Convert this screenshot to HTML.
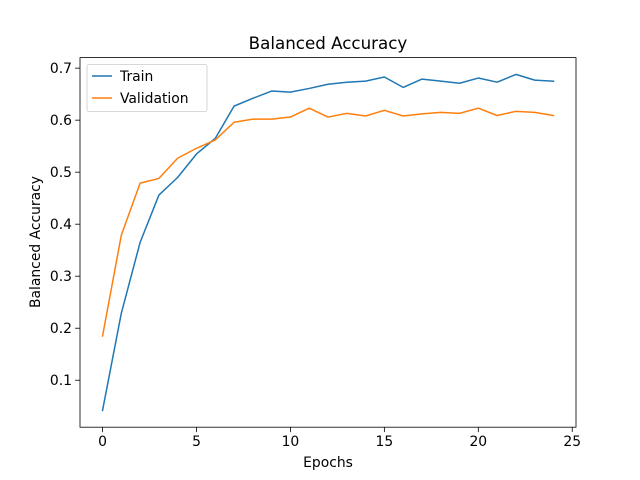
<!DOCTYPE html>
<html><head><meta charset="utf-8"><style>
html,body{margin:0;padding:0;background:#fff;}
svg{display:block;font-family:"DejaVu Sans","Liberation Sans",sans-serif;}
</style></head><body>
<svg id="chart" width="640" height="480" viewBox="0 0 640 480">
<rect width="640" height="480" fill="#fff"/>
</svg>
<script>
const epochs = [0,1,2,3,4,5,6,7,8,9,10,11,12,13,14,15,16,17,18,19,20,21,22,23,24];
const trainAcc = [0.042,0.229,0.365,0.456,0.490,0.535,0.565,0.627,0.642,0.656,0.654,0.661,0.669,0.673,0.675,0.683,0.663,0.679,0.675,0.671,0.681,0.673,0.688,0.677,0.675];
const valAcc = [0.185,0.379,0.479,0.488,0.527,0.546,0.562,0.596,0.602,0.602,0.606,0.623,0.606,0.613,0.608,0.619,0.608,0.612,0.615,0.613,0.623,0.609,0.617,0.615,0.609];
const xTicks = [0,5,10,15,20,25];
const yTicks = [0.1,0.2,0.3,0.4,0.5,0.6,0.7];

const NS="http://www.w3.org/2000/svg";
const svg=document.getElementById('chart');
const L=80,R=576,T=57.6,B=427.2;
const allX=epochs, allY=trainAcc.concat(valAcc);
const xmin0=Math.min(...allX), xmax0=Math.max(...allX);
const ymin0=Math.min(...allY), ymax0=Math.max(...allY);
const xpad=(xmax0-xmin0)*0.05, ypad=(ymax0-ymin0)*0.05;
const xmin=xmin0-xpad,xmax=xmax0+xpad,ymin=ymin0-ypad,ymax=ymax0+ypad;
const sx=v=>L+(v-xmin)/(xmax-xmin)*(R-L);
const sy=v=>B-(v-ymin)/(ymax-ymin)*(B-T);
function el(tag,attrs,parent){const e=document.createElementNS(NS,tag);for(const k in attrs)e.setAttribute(k,attrs[k]);(parent||svg).appendChild(e);return e;}

function series(data,color,name){
  const p=el('polyline',{points:data.map((v,i)=>sx(epochs[i])+','+sy(v)).join(' '),fill:'none',stroke:color,'stroke-width':1.5,'stroke-linejoin':'round','stroke-linecap':'square'});
  
  
}
series(trainAcc,'#1f77b4','train-line');
series(valAcc,'#ff7f0e','validation-line');

const fr=el('rect',{x:L,y:T,width:R-L,height:B-T,fill:'none',stroke:'#000','stroke-width':0.8});



xTicks.forEach(t=>{
  const x=sx(t);
  const l=el('line',{x1:x,x2:x,y1:B,y2:B+4.9,stroke:'#000','stroke-width':0.8});
  
  
  const tx=el('text',{x:x,y:B+19,'text-anchor':'middle','font-size':13.9,fill:'#000'});
  tx.textContent=t;
  
  
});
yTicks.forEach(t=>{
  const y=sy(t);
  const l=el('line',{x1:L-4.9,x2:L,y1:y,y2:y,stroke:'#000','stroke-width':0.8});
  
  
  const tx=el('text',{x:L-8,y:y+5,'text-anchor':'end','font-size':13.9,fill:'#000'});
  tx.textContent=t.toFixed(1);
  
  
});
</script>
<script>
const svg2=document.getElementById('chart');
function t2(txt,attrs,name){const e=document.createElementNS("http://www.w3.org/2000/svg",'text');for(const k in attrs)e.setAttribute(k,attrs[k]);e.textContent=txt;


svg2.appendChild(e);return e;}
t2('Balanced Accuracy',{x:328,y:49,'text-anchor':'middle','font-size':16.7},'chart-title');
t2('Epochs',{x:328,y:467,'text-anchor':'middle','font-size':13.9},'x-axis-title');
t2('Balanced Accuracy',{x:0,y:0,'text-anchor':'middle','font-size':13.9,transform:'translate(40,242) rotate(-90)'},'y-axis-title');
const NS2="http://www.w3.org/2000/svg";
const g=document.createElementNS(NS2,'g');


svg2.appendChild(g);
const box=document.createElementNS(NS2,'rect');
[['x',87],['y',64.5],['width',120],['height',47],['rx',2],['fill','#fff'],['fill-opacity',0.8],['stroke','#ccc'],['stroke-width',0.8]].forEach(a=>box.setAttribute(a[0],a[1]));
g.appendChild(box);
[['Train','#1f77b4',76],['Validation','#ff7f0e',98]].forEach(([n,c,y])=>{
  const ln=document.createElementNS(NS2,'line');
  [['x1',92],['x2',112],['y1',y],['y2',y],['stroke',c],['stroke-width',1.5]].forEach(a=>ln.setAttribute(a[0],a[1]));
  
  
  g.appendChild(ln);
  const tx=document.createElementNS(NS2,'text');
  [['x',120],['y',y+5],['font-size',13.9]].forEach(a=>tx.setAttribute(a[0],a[1]));
  tx.textContent=n;
  
  
  g.appendChild(tx);
});
</script>
</body></html>
